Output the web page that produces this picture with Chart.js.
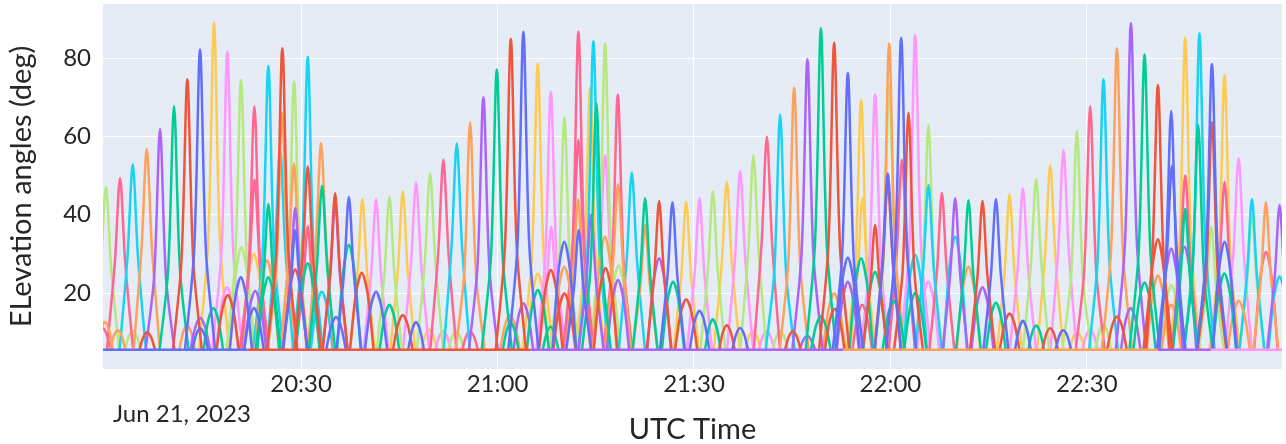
<!DOCTYPE html>
<html>
<head>
<meta charset="utf-8">
<script src="https://cdn.jsdelivr.net/npm/chart.js@4.4.1/dist/chart.umd.min.js"></script>
<style>
  html, body { margin: 0; padding: 0; background: #fff; }
  #wrap { width: 1286px; height: 444px; position: relative; }
</style>
</head>
<body>
<div id="wrap"><canvas id="elev-chart"></canvas></div>
<script>
// time axis is minutes after 20:00 UTC, Jun 21 2023
const xTickMinutes = [30, 60, 90, 120, 150];
const xTickLabels = ['20:30', '21:00', '21:30', '22:00', '22:30'];
const yTicks = [20, 40, 60, 80];
const dateLabel = 'Jun 21, 2023';

// elevation mask: satellites sit on this value when not in view
const BASE_EL = 5.5;

// flat stretches along the mask
const baseColors = ['#636efa', '#EF553B', '#ab63fa', '#FFA15A', '#ab63fa', '#FF97FF'];
const baseStart = [-0.3, 21.8, 65, 112.8, 160.8, 168.9];
const baseEnd = [21.8, 65, 112.8, 160.8, 168.9, 180.2];

// passes: [peak time, peak elevation, half width at mask, half width at shoulder, shoulder elevation]
const passesBlue = [
    [14.57, 82.2, 2.3, 0.9, 30.8], [14.6, 11, 1.2, 0.6, 9.5], [20.8, 24, 1.7, 0.85, 18.8],
    [22.8, 16.2, 1.5, 0.75, 13.2], [29.1, 36, 1.9, 0.75, 20.8], [35.34, 13.9, 1.5, 0.75, 11.5],
    [37.3, 44.5, 1.9, 0.75, 25.0], [41.45, 20.3, 1.7, 0.85, 16.2], [47.56, 12.6, 1.2, 0.6, 10.6],
    [63.95, 86.7, 2.3, 0.9, 32.3], [70.2, 33.1, 1.8, 0.9, 25.4], [72.4, 36.1, 1.9, 0.75, 20.8],
    [86.71, 43.2, 1.9, 0.75, 24.4], [90.84, 15.5, 1.5, 0.75, 12.7], [97.05, 11.1, 1.2, 0.6, 9.5],
    [113.5, 76.2, 2.3, 0.9, 28.8], [113.5, 29.1, 1.8, 0.9, 22.5], [119.6, 50.6, 2.0, 0.8, 28.1],
    [121.64, 85.2, 2.3, 0.9, 31.8], [136.11, 44, 1.9, 0.75, 24.8], [140.23, 12.9, 1.2, 0.6, 10.8],
    [146.4, 10.5, 1.2, 0.6, 9.1], [162.88, 66.5, 2.2, 0.9, 25.6], [163.0, 52.5, 2.0, 0.8, 29.0],
    [169.1, 78.5, 2.3, 0.9, 29.6], [171.03, 33.1, 1.8, 0.9, 25.4]
];
const passesRed = [
    [6.5, 10, 1.2, 0.6, 8.7], [12.63, 74.6, 2.2, 0.9, 28.3], [18.8, 19.5, 1.7, 0.85, 15.6],
    [27.14, 82.5, 2.3, 0.9, 30.9], [29.1, 26, 1.8, 0.9, 20.3], [31.02, 52.3, 2.0, 0.8, 28.9],
    [35.2, 45.5, 1.9, 0.75, 25.5], [39.27, 25.2, 1.8, 0.9, 19.7], [45.53, 14.4, 1.5, 0.75, 11.9],
    [62.03, 84.9, 2.3, 0.9, 31.7], [68.14, 25.9, 1.8, 0.9, 20.2], [70.22, 19.9, 1.7, 0.85, 15.9],
    [76.5, 26.4, 1.8, 0.9, 20.5], [84.68, 43.5, 1.9, 0.75, 24.5], [88.81, 18.4, 1.7, 0.85, 14.8],
    [95.02, 11.8, 1.2, 0.6, 10.0], [105.1, 10.2, 1.2, 0.6, 8.9], [111.41, 83.9, 2.3, 0.9, 31.4],
    [111.5, 16, 1.5, 0.75, 13.1], [117.66, 37.4, 1.9, 0.75, 21.5], [119.6, 48, 2.0, 0.8, 26.8],
    [122.76, 66, 2.2, 0.9, 25.5], [134.06, 43.5, 1.9, 0.75, 24.5], [138.19, 14.8, 1.5, 0.75, 12.2],
    [144.4, 11, 1.2, 0.6, 9.5], [154.6, 14, 1.5, 0.75, 11.6], [160.85, 73.1, 2.2, 0.9, 27.8],
    [160.85, 33.7, 1.8, 0.9, 25.8], [169.1, 63.7, 2.2, 0.9, 24.7]
];
const passesGreen = [
    [10.6, 67.7, 2.2, 0.9, 26.0], [16.6, 16.2, 1.5, 0.75, 13.2], [25.0, 42.7, 1.9, 0.75, 24.1],
    [25.0, 24, 1.7, 0.85, 18.8], [31.02, 27.6, 1.8, 0.9, 21.4], [33.2, 47.4, 2.0, 0.8, 26.5],
    [37.3, 32.3, 1.8, 0.9, 24.8], [43.49, 17, 1.5, 0.75, 13.8], [59.89, 77.1, 2.3, 0.9, 29.1],
    [62.0, 12.5, 1.2, 0.6, 10.5], [66.15, 20.8, 1.7, 0.85, 16.5], [68.1, 11.4, 1.2, 0.6, 9.7],
    [75.1, 68.5, 2.2, 0.9, 26.3], [82.54, 44.2, 1.9, 0.75, 24.9], [86.8, 22.9, 1.7, 0.85, 18.0],
    [92.88, 13.3, 1.2, 0.6, 11.1], [109.38, 87.6, 2.3, 0.9, 32.6], [109.38, 14, 1.5, 0.75, 11.6],
    [115.53, 28.9, 1.8, 0.9, 22.3], [117.66, 25.4, 1.8, 0.9, 19.8], [120.5, 18, 1.7, 0.85, 14.5],
    [123.8, 20, 1.7, 0.85, 15.9], [131.92, 43.7, 1.9, 0.75, 24.6], [136.11, 17.6, 1.5, 0.75, 14.2],
    [142.26, 11.7, 1.2, 0.6, 10.0], [158.81, 80.9, 2.3, 0.9, 30.4], [158.81, 22.7, 1.7, 0.85, 17.9],
    [165.02, 41.5, 1.9, 0.75, 23.5], [167.0, 62.9, 2.2, 0.9, 24.4], [171.0, 25, 1.8, 0.9, 19.5]
];
const passesPurple = [
    [8.46, 61.9, 2.2, 0.9, 24.1], [14.6, 13.6, 1.5, 0.75, 11.3], [23.0, 20.5, 1.7, 0.85, 16.3],
    [29.1, 41.7, 1.9, 0.75, 23.6], [35.2, 43, 1.9, 0.75, 24.3], [57.84, 70, 2.2, 0.9, 26.8],
    [63.95, 17.4, 1.5, 0.75, 14.1], [74.3, 40, 1.9, 0.75, 22.8], [78.4, 23.3, 1.7, 0.85, 18.3],
    [84.68, 28.9, 1.8, 0.9, 22.3], [107.33, 79.7, 2.3, 0.9, 30.0], [107.3, 9, 1.2, 0.6, 8.0],
    [113.5, 22.9, 1.7, 0.85, 18.0], [129.89, 44.2, 1.9, 0.75, 24.9], [134.06, 21.5, 1.7, 0.85, 17.0],
    [156.73, 88.9, 2.3, 0.9, 33.0], [156.7, 16.2, 1.5, 0.75, 13.2], [162.88, 31.4, 1.8, 0.9, 24.1],
    [164.92, 31.8, 1.8, 0.9, 24.4], [179.43, 42.5, 1.9, 0.75, 24.0]
];
const passesOrange = [
    [0.06, 12.6, 1.2, 0.6, 10.6], [2.0, 10.5, 1.2, 0.6, 9.1], [6.43, 56.8, 2.0, 0.8, 31.2],
    [12.6, 11.8, 1.2, 0.6, 10.0], [24.8, 28.4, 1.8, 0.9, 22.0], [27.1, 66, 2.2, 0.9, 25.5],
    [28.9, 53, 2.0, 0.8, 29.3], [33.05, 58.3, 2.0, 0.8, 31.9], [55.81, 63.6, 2.2, 0.9, 24.7],
    [61.9, 14.4, 1.5, 0.75, 11.9], [70.2, 26.7, 1.8, 0.9, 20.8], [72.3, 43.9, 1.9, 0.75, 24.7],
    [76.4, 34.4, 1.8, 0.9, 26.3], [78.4, 47.8, 2.0, 0.8, 26.7], [82.54, 37.4, 1.9, 0.75, 21.5],
    [105.3, 72.4, 2.2, 0.9, 27.6], [111.41, 19.9, 1.7, 0.85, 15.9], [119.81, 83.7, 2.3, 0.9, 31.3],
    [131.92, 26.7, 1.8, 0.9, 20.8], [154.59, 82.5, 2.3, 0.9, 30.9], [160.85, 24.5, 1.7, 0.85, 19.2],
    [162.9, 17, 1.5, 0.75, 13.8], [173.2, 18, 1.7, 0.85, 14.5], [177.35, 43.2, 1.9, 0.75, 24.4]
];
const passesCyan = [
    [4.29, 52.9, 2.0, 0.8, 29.2], [25.0, 78, 2.3, 0.9, 29.4], [26.8, 56.5, 2.0, 0.8, 31.0],
    [31.02, 80.3, 2.3, 0.9, 30.2], [33.16, 20.3, 1.7, 0.85, 16.2], [53.78, 58.2, 2.0, 0.8, 31.9],
    [74.64, 84.3, 2.3, 0.9, 31.5], [80.51, 50.8, 2.0, 0.8, 28.2], [103.16, 65.6, 2.2, 0.9, 25.3],
    [123.78, 29.7, 1.8, 0.9, 22.9], [125.81, 47.6, 2.0, 0.8, 26.6], [129.89, 34.4, 1.8, 0.9, 26.3],
    [152.54, 74.6, 2.2, 0.9, 28.3], [167.2, 86.3, 2.3, 0.9, 32.2], [175.21, 44, 1.9, 0.75, 24.8],
    [179.43, 24.2, 1.7, 0.85, 19.0]
];
const passesRose = [
    [-0.3, 11, 1.2, 0.6, 9.5], [2.35, 49.4, 2.0, 0.8, 27.5], [22.87, 67.7, 2.2, 0.9, 26.0],
    [22.9, 48.9, 2.0, 0.8, 27.2], [31.02, 37.1, 1.9, 0.75, 21.3], [51.73, 54, 2.0, 0.8, 29.8],
    [55.8, 10.2, 1.2, 0.6, 8.9], [72.35, 86.7, 2.3, 0.9, 32.3], [72.35, 59.1, 2.0, 0.8, 32.3],
    [78.37, 70.6, 2.2, 0.9, 27.0], [101.13, 59.9, 2.0, 0.8, 32.7], [115.7, 17, 1.5, 0.75, 13.8],
    [121.75, 54, 2.0, 0.8, 29.8], [127.86, 45.6, 1.9, 0.75, 25.6], [150.51, 67.7, 2.2, 0.9, 26.0],
    [165.02, 50.1, 2.0, 0.8, 27.8], [171.03, 48.4, 2.0, 0.8, 27.0], [177.35, 30.5, 1.8, 0.9, 23.5]
];
const passesLime = [
    [0.2, 47.1, 2.0, 0.8, 26.3], [4.3, 10.3, 1.2, 0.6, 9.0], [20.83, 74.4, 2.2, 0.9, 28.2],
    [20.9, 31.7, 1.8, 0.9, 24.4], [28.93, 74.1, 2.2, 0.9, 28.1], [43.49, 44.6, 1.9, 0.75, 25.1],
    [49.70, 50.7, 2.0, 0.8, 28.1], [53.67, 10.2, 1.2, 0.6, 8.9], [70.22, 64.9, 2.2, 0.9, 25.1],
    [76.43, 83.7, 2.3, 0.9, 31.3], [78.5, 27, 1.8, 0.9, 21.0], [92.88, 46, 1.9, 0.75, 25.8],
    [99.08, 55.1, 2.0, 0.8, 30.3], [103.2, 10.2, 1.2, 0.6, 8.9], [119.81, 73.1, 2.2, 0.9, 27.8],
    [125.81, 62.9, 2.2, 0.9, 24.4], [142.26, 49.1, 2.0, 0.8, 27.3], [148.48, 61.4, 2.2, 0.9, 23.9],
    [152.5, 12, 1.2, 0.6, 10.2], [162.9, 22, 1.7, 0.85, 17.4], [169.0, 36.9, 1.9, 0.75, 21.2],
    [175.2, 40, 1.9, 0.75, 22.8]
];
const passesPink = [
    [18.74, 81.6, 2.3, 0.9, 30.6], [18.7, 21.5, 1.7, 0.85, 17.0], [41.45, 44, 1.9, 0.75, 24.8],
    [47.56, 48.2, 2.0, 0.8, 26.9], [51.69, 10.2, 1.2, 0.6, 8.9], [68.14, 71.4, 2.2, 0.9, 27.2],
    [68.2, 36.9, 1.9, 0.75, 21.2], [76.43, 55.2, 2.0, 0.8, 30.4], [90.84, 44.2, 1.9, 0.75, 24.9],
    [97.05, 51.2, 2.0, 0.8, 28.4], [101.1, 10.2, 1.2, 0.6, 8.9], [117.66, 70.7, 2.2, 0.9, 27.0],
    [123.78, 85.9, 2.3, 0.9, 32.0], [125.76, 22.9, 1.7, 0.85, 18.0], [140.23, 46.7, 2.0, 0.8, 26.1],
    [146.43, 56.5, 2.0, 0.8, 31.0], [150.5, 10.5, 1.2, 0.6, 9.1], [173.17, 54.4, 2.0, 0.8, 30.0]
];
const passesYellow = [
    [16.71, 89, 2.3, 0.9, 33.1], [22.8, 30, 1.8, 0.9, 23.1], [39.36, 44, 1.9, 0.75, 24.8],
    [45.53, 46, 1.9, 0.75, 25.8], [49.55, 10.7, 1.2, 0.6, 9.2], [66.15, 78.6, 2.3, 0.9, 29.6],
    [66.15, 24.9, 1.7, 0.85, 19.5], [74.14, 72.5, 2.2, 0.9, 27.6], [88.81, 43.3, 1.9, 0.75, 24.4],
    [95.02, 48.4, 2.0, 0.8, 27.0], [99.0, 10.2, 1.2, 0.6, 8.9], [115.53, 69.3, 2.2, 0.9, 26.6],
    [115.73, 44.2, 1.9, 0.75, 24.9], [138.19, 45.2, 1.9, 0.75, 25.4], [144.4, 52.7, 2.0, 0.8, 29.1],
    [148.5, 10, 1.2, 0.6, 8.7], [165.02, 85.2, 2.3, 0.9, 31.8], [171.03, 75.7, 2.3, 0.9, 28.7]
];

const colorPasses = [
    ['#636efa', passesBlue],
    ['#EF553B', passesRed],
    ['#00cc96', passesGreen],
    ['#ab63fa', passesPurple],
    ['#FFA15A', passesOrange],
    ['#19d3f3', passesCyan],
    ['#FF6692', passesRose],
    ['#B6E880', passesLime],
    ['#FF97FF', passesPink],
    ['#FECB52', passesYellow]
];

const FONT = 'Lato, "Open Sans", sans-serif';
const TEXT_COLOR = '#262626';

const lineSet = function (color, points) {
    return {
        data: points,
        borderColor: color,
        borderWidth: 2.5,
        tension: 0.3,
        pointRadius: 0,
        fill: false,
        clip: 0
    };
};

const datasets = [];
for (let i = 0; i < baseColors.length; i++) {
    datasets.push(lineSet(baseColors[i], [
        {x: baseStart[i], y: BASE_EL},
        {x: baseEnd[i], y: BASE_EL}
    ]));
}
for (const [color, passes] of colorPasses) {
    for (const [t, el, hb, sdt, sel] of passes) {
        datasets.push(lineSet(color, [
            {x: t - hb, y: BASE_EL},
            {x: t - sdt, y: sel},
            {x: t, y: el},
            {x: t + sdt, y: sel},
            {x: t + hb, y: BASE_EL}
        ]));
    }
}

const plotBackground = {
    id: 'plotBackground',
    beforeDraw(chart) {
        const {ctx, chartArea: a} = chart;
        ctx.save();
        ctx.fillStyle = '#e5ecf6';
        ctx.fillRect(a.left, a.top, a.right - a.left, a.bottom - a.top);
        ctx.restore();
    }
};

const dateStamp = {
    id: 'dateStamp',
    afterDraw(chart) {
        const {ctx, chartArea: a} = chart;
        ctx.save();
        ctx.font = '24px ' + FONT;
        ctx.fillStyle = TEXT_COLOR;
        ctx.textAlign = 'left';
        ctx.textBaseline = 'middle';
        ctx.fillText(dateLabel, a.left + 10, a.bottom + 45);
        ctx.restore();
    }
};

Chart.defaults.font.family = FONT;
Chart.defaults.color = TEXT_COLOR;

new Chart(document.getElementById('elev-chart'), {
    type: 'line',
    data: {datasets: datasets},
    plugins: [plotBackground, dateStamp],
    options: {
        responsive: true,
        maintainAspectRatio: false,
        animation: false,
        events: [],
        layout: {padding: {top: 4, right: 4, left: 0, bottom: 0}},
        plugins: {
            legend: {display: false},
            tooltip: {enabled: false},
            title: {display: false}
        },
        scales: {
            x: {
                type: 'linear',
                min: -0.25,
                max: 179.8,
                afterBuildTicks: function (scale) {
                    scale.ticks = xTickMinutes.map(v => ({value: v}));
                },
                afterFit: function (scale) {
                    scale.height = 75;
                    scale.paddingLeft = 0;
                    scale.paddingRight = 0;
                },
                grid: {color: '#ffffff', lineWidth: 1, drawTicks: false},
                border: {display: false},
                ticks: {
                    autoSkip: false,
                    maxRotation: 0,
                    padding: 1,
                    font: {size: 24},
                    callback: function (value, index) {
                        return xTickLabels[index];
                    }
                },
                title: {
                    display: true,
                    text: 'UTC Time',
                    font: {size: 29, lineHeight: 1},
                    padding: {top: 0, bottom: 0}
                }
            },
            y: {
                type: 'linear',
                min: 0.6,
                max: 93.8,
                afterBuildTicks: function (scale) {
                    scale.ticks = yTicks.map(v => ({value: v}));
                },
                afterFit: function (scale) {
                    scale.width = 103;
                    scale.paddingTop = 0;
                    scale.paddingBottom = 0;
                },
                grid: {color: '#ffffff', lineWidth: 1, drawTicks: false},
                border: {display: false},
                ticks: {
                    padding: 12,
                    font: {size: 24}
                },
                title: {
                    display: true,
                    text: 'ELevation angles (deg)',
                    font: {size: 29, lineHeight: 1},
                    padding: {top: 7, bottom: 0}
                }
            }
        }
    }
});
</script>
</body>
</html>
